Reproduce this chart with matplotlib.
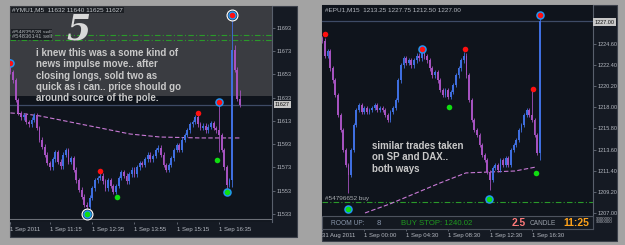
import matplotlib
matplotlib.use("Agg")
import matplotlib.pyplot as plt
from matplotlib.patches import Rectangle

plt.rcParams['font.family'] = ['Liberation Sans', 'DejaVu Sans']

W, H = 625, 245

# ---- left chart #YMU1,M5 ----
ym_open0 = 11666
ym_close = [
    11655, 11648, 11631, 11620, 11616, 11618, 11612, 11610, 11614, 11618,
    11607, 11597, 11591, 11584, 11577, 11573, 11580, 11586, 11578, 11574,
    11584, 11588, 11578, 11581, 11571, 11562, 11554, 11548, 11541, 11539,
    11547, 11555, 11562, 11564, 11566, 11561, 11555, 11562, 11557, 11552,
    11557, 11564, 11569, 11566, 11561, 11567, 11571, 11567, 11573, 11577,
    11575, 11580, 11584, 11580, 11583, 11588, 11590, 11584, 11575, 11571,
    11575, 11581, 11588, 11592, 11588, 11597, 11601, 11605, 11610, 11612,
    11616, 11610, 11607, 11609, 11605, 11608, 11611, 11607, 11605, 11601,
    11588, 11573, 11558, 11562, 11674, 11657, 11632, 11627]
ym_high = {0: 11666, 79: 11628, 84: 11702, 85: 11678, 87: 11640, 34: 11568}
ym_low = {29: 11535, 82: 11553, 84: 11556, 79: 11586, 87: 11625}
ym_ma_bar = [0, 5.7, 11.2, 18.8, 26.4, 34, 45.3, 56.7, 71.8, 87]
ym_ma = [11619.9, 11619.0, 11617.3, 11613.9, 11610.4, 11607.0, 11601.8, 11599.2, 11598.4, 11598.4]
ym_ticks = [11533, 11553, 11573, 11593, 11613, 11633, 11653, 11673, 11693]
ym_time_bar = [0, 15, 31, 47, 63, 79]
ym_time_lbl = ['1 Sep 2011', '1 Sep 11:15', '1 Sep 12:35', '1 Sep 13:55', '1 Sep 15:15', '1 Sep 16:35']
ym_orders = [11687.0, 11682.7]
ym_last = 11627
# markers: (bar, price, kind)
ym_marks = [(0, 11663, 'sell_b'), (84, 11704, 'sell_w'), (29, 11533, 'buy_w'),
            (34, 11570, 'sell'), (40.4, 11547.6, 'buy'), (71, 11620, 'sell'),
            (79, 11629.3, 'sell_b'), (78.3, 11579.5, 'buy'), (82, 11552, 'buy_b')]

# ---- right chart #EPU1,M15 ----
ep_open0 = 1225.2
ep_close = [
    1224.96, 1223.40, 1223.90, 1222.05, 1220.80, 1219.25, 1217.17, 1215.62, 1213.54, 1211.98,
    1210.94, 1213.54, 1216.13, 1217.69, 1218.21, 1217.48, 1217.90, 1217.48, 1217.69, 1217.90,
    1218.21, 1217.69, 1217.90, 1217.69, 1217.17, 1216.65, 1217.48, 1217.90, 1218.73, 1220.80,
    1222.36, 1223.09, 1222.67, 1222.88, 1222.36, 1222.88, 1223.40, 1223.09, 1223.71, 1223.30,
    1222.88, 1222.05, 1221.32, 1221.63, 1220.80, 1219.77, 1219.25, 1219.77, 1219.04, 1219.56,
    1220.29, 1221.32, 1222.05, 1222.88, 1223.40, 1221.32, 1218.73, 1216.65, 1215.62, 1215.10,
    1214.06, 1213.02, 1212.50, 1211.26, 1210.43, 1211.67, 1211.98, 1211.46, 1212.50, 1211.98,
    1212.71, 1211.98, 1213.54, 1214.06, 1214.58, 1215.62, 1216.13, 1217.17, 1217.69, 1217.17,
    1216.65, 1215.10, 1213.25, 1227.00]
ep_high = {0: 1225.4, 38: 1223.9, 54: 1223.8, 80: 1219.9, 83: 1227.75}
ep_low = {10: 1209.08, 64: 1209.4, 83: 1212.50}
ep_ma_bar = [16.3, 25.8, 35.8, 44.9, 54.8, 64, 73.5, 81.6]
ep_ma = [1207.0, 1207.94, 1209.08, 1210.12, 1211.17, 1211.27, 1211.37, 1211.79]
ep_ticks = [1207.00, 1209.20, 1211.40, 1213.60, 1215.80, 1218.00, 1220.20, 1222.40, 1224.60]
ep_time_bar = [0, 16, 32, 48, 64, 80]
ep_time_lbl = ['31 Aug 2011', '1 Sep 00:00', '1 Sep 04:30', '1 Sep 08:30', '1 Sep 12:30', '1 Sep 16:30']
ep_orders = [1208.15]
ep_last = 1227.00
ep_marks = [(1, 1225.64, 'sell'), (10, 1207.42, 'buy_b'), (38, 1224.08, 'sell_b'),
            (54.5, 1224.08, 'sell'), (48.4, 1218.04, 'buy'), (63.6, 1208.46, 'buy_b'),
            (80.4, 1219.91, 'sell'), (83, 1227.62, 'sell_b'), (81.6, 1211.17, 'buy')]

UP = '#3f6fe0'
DOWN = '#a552bf'
MA = '#c97ad6'


def frac(x0, y0, x1, y1):
    return [x0 / W, 1 - y1 / H, (x1 - x0) / W, (y1 - y0) / H]


def rect(x0, y0, x1, y1, **kw):
    fig.add_artist(Rectangle((x0 / W, 1 - y1 / H), (x1 - x0) / W, (y1 - y0) / H,
                             transform=fig.transFigure, **kw))


def ftext(x, y, s, **kw):
    fig.text(x / W, 1 - y / H, s, **kw)


def candles(ax, open0, closes, highs, lows, wick):
    opens = [open0] + closes[:-1]
    for i, (o, c) in enumerate(zip(opens, closes)):
        col = UP if c >= o else DOWN
        hi = highs.get(i, max(o, c) + wick)
        lo = lows.get(i, min(o, c) - wick)
        ax.vlines(i, lo, hi, color=col, lw=0.6, zorder=3)
        ax.bar(i, max(abs(c - o), wick * 0.5), bottom=min(o, c), width=0.7,
               color=col, lw=0, zorder=4)


def markers(ax, marks):
    for b, p, kind in marks:
        col = '#ff1010' if kind.startswith('sell') else '#10dd10'
        if kind.endswith('_w'):
            ax.scatter(b, p, s=75, color='white', zorder=7, lw=0)
            ax.scatter(b, p, s=48, color='#1a1e26', zorder=7, lw=0)
        if kind.endswith('_w') or kind.endswith('_b'):
            ax.scatter(b, p, s=38, color='#2196f3', zorder=8, lw=0)
        ax.scatter(b, p, s=16, color=col, zorder=9, lw=0)


def style(ax, ylim, xlim, ticks, fmt, tbar, tlbl, pad):
    ax.set_facecolor('#0f141c')
    ax.set_ylim(*ylim)
    ax.set_xlim(*xlim)
    for s in ax.spines.values():
        s.set_visible(False)
    ax.spines['right'].set_visible(True)
    ax.spines['right'].set_color('#59606c')
    ax.spines['right'].set_linewidth(0.8)
    ax.yaxis.tick_right()
    ax.set_yticks(ticks, [fmt % t for t in ticks])
    ax.tick_params(axis='y', length=2, width=0.5, color='#7a808c', labelsize=4,
                   labelcolor='#b4b8c0', pad=1.6)
    ax.set_xticks(tbar, tlbl, ha='left')
    ax.tick_params(axis='x', length=1.5, width=0.5, color='#7a808c', labelsize=4.3,
                   labelcolor='#b4b8c0', pad=pad)


fig = plt.figure(figsize=(W / 100, H / 100), dpi=100, facecolor='#a3a3a3')

# panel backgrounds
rect(10, 6, 297, 237, facecolor='#151a23', edgecolor='#3b404a', lw=0.8, zorder=-2)
rect(322, 5, 617, 241, facecolor='#151a23', edgecolor='#3b404a', lw=0.8, zorder=-2)

# ---- left ----
ax1 = fig.add_axes(frac(10, 6, 272, 222))
style(ax1, (11526.1, 11711.9), (-0.15, 99.1), ym_ticks, '%d', ym_time_bar, ym_time_lbl, 2.3)
ax1.axhspan(11634.5, 11711.9, color='#3a3c41', lw=0, zorder=0.5)
ax1.axhline(ym_last, color='#3e4b66', lw=0.9, zorder=1)
for p in ym_orders:
    ax1.axhline(p, color='#2a9a2a', lw=0.8, ls=(0, (5, 2, 1, 2)), zorder=2)
ax1.axhline(11528.3, color='#6a6e76', lw=0.8, zorder=2)
ax1.axhline(11526.4, color='#6a6e76', lw=0.8, zorder=2)
ax1.plot(ym_ma_bar, ym_ma, color=MA, lw=0.8, ls=(0, (4, 2)), zorder=2.5)
candles(ax1, ym_open0, ym_close, ym_high, ym_low, 2.0)
markers(ax1, ym_marks)

ftext(12, 10, '#YMU1,M5  11632 11640 11625 11627', fontsize=4.6, color='#c4c8cc', va='center',
      bbox=dict(facecolor='#1c1f24', edgecolor='none', pad=0.6), zorder=5)
ftext(12, 32, '#54835638 sell', fontsize=4.2, color='#a8acb0', va='center',
      bbox=dict(facecolor='#1c1f24', edgecolor='none', pad=0.4), zorder=5)
ftext(12, 36.5, '#54836141 sell', fontsize=4.2, color='#a8acb0', va='center',
      bbox=dict(facecolor='#1c1f24', edgecolor='none', pad=0.4), zorder=5)
ftext(78, 30, '5', fontsize=25, family='DejaVu Serif', style='italic', weight='bold',
      color='#d9d9d9', ha='center', va='center', zorder=5)
ftext(36, 48, 'i knew this was a some kind of\nnews impulse move.. after\nclosing longs, sold two as\n'
      'quick as i can.. price should go\naround source of the pole.',
      fontsize=7, weight='bold', color='#c8c8c8', va='top', linespacing=1.16, zorder=5)
ftext(275, 104.5, '11627', fontsize=4, color='#101010', va='center',
      bbox=dict(facecolor='#c8c8c8', edgecolor='none', pad=0.8), zorder=5)

# ---- right ----
ax2 = fig.add_axes(frac(322, 5, 593, 229))
style(ax2, (1205.33, 1228.66), (-0.11, 103.3), ep_ticks, '%.2f', ep_time_bar, ep_time_lbl, 1.6)
ax2.axhline(ep_last, color='#3e4b66', lw=0.9, zorder=1)
for p in ep_orders:
    ax2.axhline(p, color='#2a9a2a', lw=0.8, ls=(0, (5, 2, 1, 2)), zorder=2)
ax2.plot(ep_ma_bar, ep_ma, color=MA, lw=0.8, ls=(0, (4, 2)), zorder=2.5)
candles(ax2, ep_open0, ep_close, ep_high, ep_low, 0.22)
markers(ax2, ep_marks)

ftext(325, 9.5, '#EPU1,M15  1213.25 1227.75 1212.50 1227.00', fontsize=4.6, color='#b4b8c0', va='center', zorder=5)
ftext(325, 198.5, '#54796652 buy', fontsize=4.6, color='#a8acb0', va='center', zorder=5)
ftext(372, 141, 'similar trades taken\non SP and DAX..\nboth ways', fontsize=7, weight='bold',
      color='#c8c8c8', va='top', linespacing=1.16, zorder=5)
ftext(594.5, 22, '1227.00', fontsize=4, color='#101010', va='center',
      bbox=dict(facecolor='#c8c8c8', edgecolor='none', pad=0.8), zorder=5)
ftext(596, 219, '9000000', fontsize=3.2, color='#b4b8c0', va='center', zorder=5)
ftext(596, 222, '9000000', fontsize=3.2, color='#b4b8c0', va='center', zorder=5)

# info bar
rect(322, 216, 593, 229, facecolor='#141921', edgecolor='#4d535e', lw=0.8, zorder=3)
ftext(331, 223, 'ROOM UP:', fontsize=4.8, color='#8a98ad', va='center', zorder=6)
ftext(377, 223, '8', fontsize=5.6, color='#8a98ad', va='center', zorder=6)
ftext(401, 223, 'BUY STOP: 1240.02', fontsize=5.6, color='#1f9a1f', va='center', zorder=6)
ftext(512, 222.5, '2.5', fontsize=7.4, weight='bold', color='#ff7a7a', va='center', zorder=6)
ftext(530, 223, 'CANDLE', fontsize=4.7, color='#9aa0aa', va='center', zorder=6)
ftext(563, 222.5, '11:25', fontsize=7.5, weight='bold', color='#ffa31a', va='center', zorder=6)

fig.savefig('out.png', dpi=100, facecolor=fig.get_facecolor())
